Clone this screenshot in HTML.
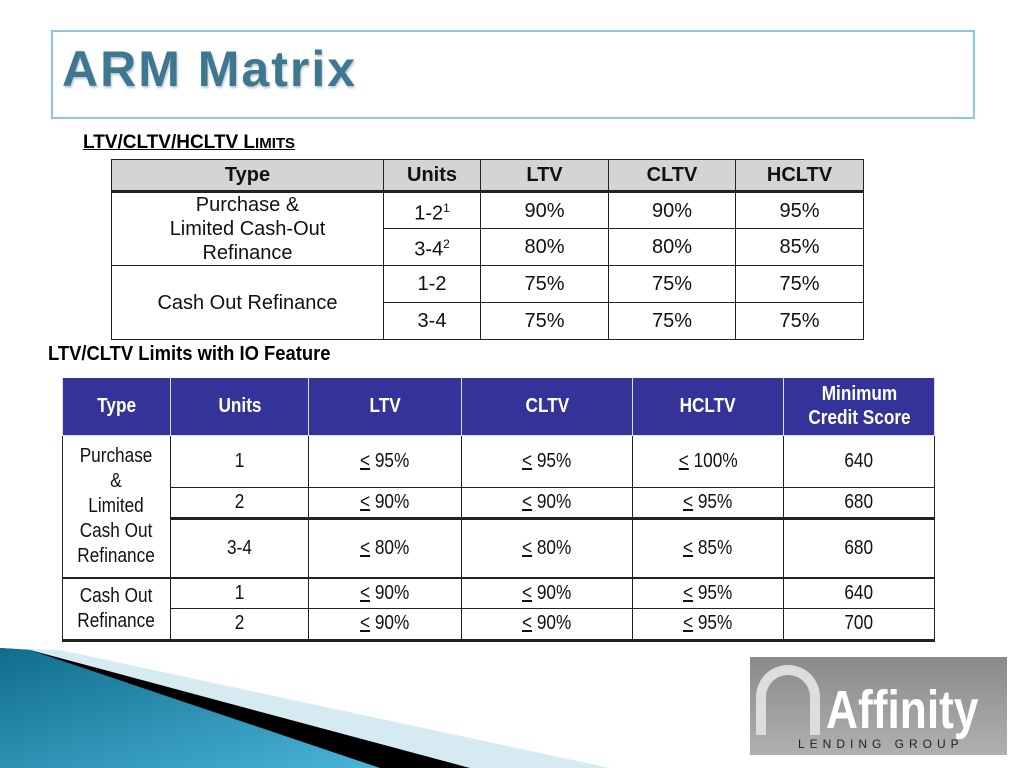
<!DOCTYPE html>
<html><head><meta charset="utf-8"><style>
body{margin:0;width:1024px;height:768px;background:#fff;position:relative;overflow:hidden;font-family:"Liberation Sans",sans-serif;}
.abs{position:absolute;}
table{border-collapse:collapse;position:absolute;table-layout:fixed;}
td{padding:0;text-align:center;vertical-align:middle;color:#111;}
#t1 td{border:1px solid #222;font-size:20px;line-height:24px;}
#t1 tr.h td{background:#d4d4d4;font-weight:bold;border-bottom:3px solid #222;}
#t2 td{border:1px solid #222;font-size:20px;line-height:25px;}
#t2 tr.h td{background:#333399;color:#fff;font-weight:bold;border-color:#ddd;border-top:none;}
.n{display:inline-block;transform:scaleX(0.86);white-space:nowrap;}
u{text-decoration:underline;}
</style></head><body>
<div class="abs" style="left:51px;top:30px;width:920px;height:85px;border:2px solid #8cc8d6;"></div>
<div class="abs" style="left:62px;top:40px;font-size:50px;font-weight:bold;color:#3f7690;letter-spacing:2px;text-shadow:1px 2px 2px #b8c8d0;">ARM Matrix</div>

<div class="abs" style="left:83px;top:132px;font-size:19px;font-weight:bold;text-decoration:underline;white-space:nowrap;">LTV/CLTV/HCLTV L<span style="font-size:15px">IMITS</span></div>

<table id="t1" style="left:111px;top:159px;width:753px;">
<colgroup><col style="width:272px"><col style="width:97px"><col style="width:128px"><col style="width:127px"><col style="width:128px"></colgroup>
<tr class="h" style="height:32px"><td>Type</td><td>Units</td><td>LTV</td><td>CLTV</td><td>HCLTV</td></tr>
<tr style="height:37px"><td rowspan="2">Purchase &amp;<br>Limited Cash-Out<br>Refinance</td><td>1-2<sup style="font-size:12px">1</sup></td><td>90%</td><td>90%</td><td>95%</td></tr>
<tr style="height:37px"><td>3-4<sup style="font-size:12px">2</sup></td><td>80%</td><td>80%</td><td>85%</td></tr>
<tr style="height:37px"><td rowspan="2">Cash Out Refinance</td><td>1-2</td><td>75%</td><td>75%</td><td>75%</td></tr>
<tr style="height:37px"><td>3-4</td><td>75%</td><td>75%</td><td>75%</td></tr>
</table>

<div class="abs" style="left:48px;top:343px;font-size:20px;font-weight:bold;text-decoration:underline;"><span class="n" style="transform-origin:left;transform:scaleX(0.92)">LTV/CLTV Limits with IO Feature</span></div>

<table id="t2" style="left:62px;top:378px;width:872px;">
<colgroup><col style="width:108px"><col style="width:138px"><col style="width:153px"><col style="width:171px"><col style="width:151px"><col style="width:151px"></colgroup>
<tr class="h" style="height:57px"><td><span class="n">Type</span></td><td><span class="n">Units</span></td><td><span class="n">LTV</span></td><td><span class="n">CLTV</span></td><td><span class="n">HCLTV</span></td><td style="line-height:24px"><span class="n">Minimum<br>Credit Score</span></td></tr>
<tr style="height:52px"><td rowspan="3" style="border-bottom:2px solid #222;line-height:25px"><span class="n">Purchase<br>&amp;<br>Limited<br>Cash Out<br>Refinance</span></td><td><span class="n">1</span></td><td><span class="n"><u>&lt;</u> 95%</span></td><td><span class="n"><u>&lt;</u> 95%</span></td><td><span class="n"><u>&lt;</u> 100%</span></td><td><span class="n">640</span></td></tr>
<tr style="height:31px;border-bottom:3px solid #222"><td><span class="n">2</span></td><td><span class="n"><u>&lt;</u> 90%</span></td><td><span class="n"><u>&lt;</u> 90%</span></td><td><span class="n"><u>&lt;</u> 95%</span></td><td><span class="n">680</span></td></tr>
<tr style="height:60px;border-bottom:2px solid #222"><td><span class="n">3-4</span></td><td><span class="n"><u>&lt;</u> 80%</span></td><td><span class="n"><u>&lt;</u> 80%</span></td><td><span class="n"><u>&lt;</u> 85%</span></td><td><span class="n">680</span></td></tr>
<tr style="height:30px"><td rowspan="2" style="border-bottom:3px solid #222"><span class="n">Cash Out<br>Refinance</span></td><td><span class="n">1</span></td><td><span class="n"><u>&lt;</u> 90%</span></td><td><span class="n"><u>&lt;</u> 90%</span></td><td><span class="n"><u>&lt;</u> 95%</span></td><td><span class="n">640</span></td></tr>
<tr style="height:32px;border-bottom:3px solid #222"><td><span class="n">2</span></td><td><span class="n"><u>&lt;</u> 90%</span></td><td><span class="n"><u>&lt;</u> 90%</span></td><td><span class="n"><u>&lt;</u> 95%</span></td><td><span class="n">700</span></td></tr>
</table>

<svg class="abs" style="left:0;top:640px" width="700" height="128">
<defs><linearGradient id="bg" x1="0" y1="0" x2="1" y2="1"><stop offset="0" stop-color="#0f6d8c"/><stop offset="1" stop-color="#4ab4d8"/></linearGradient></defs>
<polygon points="60,10 610,128 0,128 0,8" fill="#d6eaf2"/>
<polygon points="30,10 470,128 0,128 0,8" fill="#000"/>
<polygon points="0,8 30,10 380,128 0,128" fill="url(#bg)"/>
</svg>

<div class="abs" style="left:750px;top:657px;width:257px;height:98px;background:linear-gradient(180deg,#8a8a8a,#b0b0b0);">
<div class="abs" style="left:6px;top:8px;width:64px;height:70px;border:10px solid #ddd;border-bottom:none;border-radius:40px 40px 0 0;box-sizing:border-box;"></div>
<div class="abs" style="left:76px;top:22px;font-size:54px;font-weight:bold;color:#fff;"><span class="n" style="transform-origin:left;transform:scaleX(0.82)">Affinity</span></div>
<div class="abs" style="left:48px;top:80px;font-size:12px;letter-spacing:5px;color:#222;">LENDING GROUP</div>
</div>
</body></html>
